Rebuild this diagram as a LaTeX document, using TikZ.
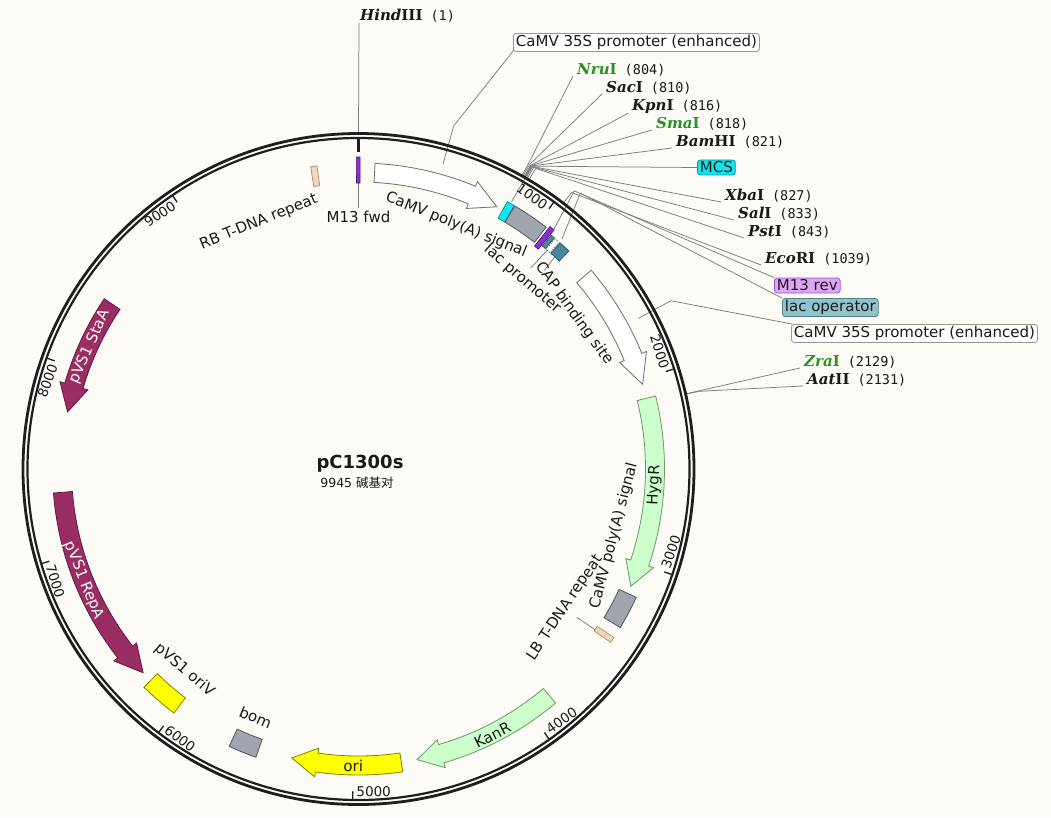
\documentclass[tikz,border=0pt]{standalone}
\usepackage{fontspec}
\setmainfont{DejaVu Sans}
\newfontfamily\enzf{DejaVu Serif}
\newfontfamily\numf{DejaVu Sans Mono}
\newfontfamily\cjkf{Noto Sans CJK SC}
\usetikzlibrary{calc}
\definecolor{bgc}{RGB}{253,251,245}
\definecolor{ringc}{RGB}{30,30,30}
\definecolor{leadc}{RGB}{125,125,125}
\definecolor{enzgreen}{RGB}{40,145,40}
\definecolor{wdraw}{RGB}{110,110,110}
\definecolor{gfill}{RGB}{204,255,204}
\definecolor{gdraw}{RGB}{110,150,110}
\definecolor{yfill}{RGB}{255,255,0}
\definecolor{ydraw}{RGB}{130,130,0}
\definecolor{mfill}{RGB}{153,45,100}
\definecolor{mdraw}{RGB}{100,25,65}
\definecolor{grfill}{RGB}{160,164,175}
\definecolor{grdraw}{RGB}{85,85,95}
\definecolor{bfill}{RGB}{240,215,190}
\definecolor{bdraw}{RGB}{175,140,110}
\definecolor{cfill}{RGB}{20,228,235}
\definecolor{cdraw}{RGB}{0,140,150}
\definecolor{pfill}{RGB}{140,45,210}
\definecolor{pdraw}{RGB}{80,20,120}
\definecolor{tfill}{RGB}{70,135,155}
\definecolor{tdraw}{RGB}{40,80,95}
\definecolor{m13box}{RGB}{222,165,245}
\definecolor{m13boxd}{RGB}{160,80,200}
\definecolor{lacbox}{RGB}{145,195,205}
\definecolor{lacboxd}{RGB}{80,130,140}
\definecolor{mcsbox}{RGB}{20,228,235}
\definecolor{mcsboxd}{RGB}{0,150,160}
\definecolor{camboxd}{RGB}{150,150,150}
\definecolor{txtc}{RGB}{25,25,25}

\newcommand\enz[2]{{\enzf\bfseries\itshape #1}{\enzf\bfseries #2}}
\newcommand\enzpos[1]{\hspace{8pt}{\numf\fontsize{13.5}{16}\selectfont\color{txtc}#1}}

% feature arrow: style, theta start, theta head base, theta tip (clockwise from top)
\newcommand\featarrow[4]{%
  \pgfmathsetmacro\mySa{#2-90}\pgfmathsetmacro\myHa{#3-90}\pgfmathsetmacro\myTa{#4-90}%
  \draw[#1] plot[domain=\mySa:\myHa, samples=40, variable=\t] (\t:306)
    -- (\myHa:311) -- (\myTa:296.5) -- (\myHa:282)
    -- plot[domain=\myHa:\mySa, samples=40, variable=\t] (\t:287) -- cycle;}
% feature box: style, theta1, theta2, r1, r2
\newcommand\featbox[5]{%
  \pgfmathsetmacro\myBa{#2-90}\pgfmathsetmacro\myBb{#3-90}%
  \draw[#1] plot[domain=\myBa:\myBb, samples=12, variable=\t] (\t:#5)
    -- plot[domain=\myBb:\myBa, samples=12, variable=\t] (\t:#4) -- cycle;}
% tick marks
\newcommand\ticktop[2]{%
  \pgfmathsetmacro\myKa{#1-90}\pgfmathsetmacro\myKl{#1-90-0.5}\pgfmathsetmacro\myKr{-#1}%
  \draw[tickline] (\myKa:331) -- (\myKa:322.5);
  \node[ticklab, anchor=north east, rotate=\myKr] (tk#2) at (\myKl:328.5) {#2};}
\newcommand\tickbot[2]{%
  \pgfmathsetmacro\myKa{#1-90}\pgfmathsetmacro\myKl{#1-90-0.5}\pgfmathsetmacro\myKr{180-#1}%
  \draw[tickline] (\myKa:331) -- (\myKa:322.5);
  \node[ticklab, anchor=south west, rotate=\myKr] (tk#2) at (\myKl:328.5) {#2};}
% enzyme leader: theta, node
\newcommand\enzlead[2]{%
  \pgfmathsetmacro\myEa{#1-90}%
  \draw[lead] (\myEa:336) -- (\myEa:349) -- ([xshift=-3pt,yshift=1pt]#2.south west);}

\begin{document}
\begin{tikzpicture}[x=1pt,y=-1pt,
  lead/.style={draw=leadc,line width=0.75pt},
  tickline/.style={draw=ringc,line width=1.3pt},
  ticklab/.style={font=\fontsize{13.5}{15}\selectfont,inner sep=0.6pt,text=txtc},
  flab/.style={font=\fontsize{15}{17}\selectfont,inner sep=0pt,text=txtc},
  enzlab/.style={font=\fontsize{15}{17}\selectfont,inner sep=1pt,anchor=base west,text=txtc},
  boxlab/.style={font=\fontsize{15}{17}\selectfont,rounded corners=3pt,inner xsep=2.5pt,inner ysep=1.8pt,line width=0.8pt,text=txtc},
  fwhite/.style={fill=white,draw=wdraw,line width=0.8pt},
  fgreen/.style={fill=gfill,draw=gdraw,line width=0.8pt},
  fyellow/.style={fill=yfill,draw=ydraw,line width=0.8pt},
  fmag/.style={fill=mfill,draw=mdraw,line width=0.8pt},
  fgray/.style={fill=grfill,draw=grdraw,line width=0.8pt},
  fbeige/.style={fill=bfill,draw=bdraw,line width=0.7pt},
  fcyan/.style={fill=cfill,draw=cdraw,line width=0.7pt},
  fpurple/.style={fill=pfill,draw=pdraw,line width=0.6pt},
  fteal/.style={fill=tfill,draw=tdraw,line width=0.6pt},
  fdash/.style={fill=white,draw=wdraw,line width=0.6pt,dash pattern=on 1.2pt off 1.2pt}]
\fill[bgc] (0,0) rectangle (1051,817);
\useasboundingbox (0,0) rectangle (1051,817);

% ---- outer labels ----
\node[enzlab] (hind) at (359,20) {\enz{Hind}{III}\enzpos{(1)}};
\node[boxlab, draw=camboxd, fill=white, anchor=north west] (cam1) at (513,33) {CaMV 35S promoter (enhanced)};
\node[enzlab] (nru) at (576,74) {\textcolor{enzgreen}{\enz{Nru}{I}}\enzpos{(804)}};
\node[enzlab] (sac) at (605,92) {\enz{Sac}{I}\enzpos{(810)}};
\node[enzlab] (kpn) at (631,110) {\enz{Kpn}{I}\enzpos{(816)}};
\node[enzlab] (sma) at (655,128) {\textcolor{enzgreen}{\enz{Sma}{I}}\enzpos{(818)}};
\node[enzlab] (bam) at (675,146) {\enz{Bam}{HI}\enzpos{(821)}};
\node[boxlab, draw=mcsboxd, fill=mcsbox, anchor=west] (mcs) at (697,167.5) {MCS};
\node[enzlab] (xba) at (724,200) {\enz{Xba}{I}\enzpos{(827)}};
\node[enzlab] (sal) at (737,218) {\enz{Sal}{I}\enzpos{(833)}};
\node[enzlab] (pst) at (747,236) {\enz{Pst}{I}\enzpos{(843)}};
\node[enzlab] (eco) at (764,263) {\enz{Eco}{RI}\enzpos{(1039)}};
\node[boxlab, draw=m13boxd, fill=m13box, anchor=west] (m13rev) at (774,285.5) {M13 rev};
\node[boxlab, draw=lacboxd, fill=lacbox, anchor=west] (lacop) at (782,307.5) {lac operator};
\node[boxlab, draw=camboxd, fill=white, anchor=west] (cam2) at (791,333.5) {CaMV 35S promoter (enhanced)};
\node[enzlab] (zra) at (803,366) {\textcolor{enzgreen}{\enz{Zra}{I}}\enzpos{(2129)}};
\node[enzlab] (aat) at (806,384) {\enz{Aat}{II}\enzpos{(2131)}};

% ---- centre title ----
\node[font=\bfseries\fontsize{18}{20}\selectfont, text=txtc] (title) at (360,464) {pC1300s};
\node[font=\fontsize{12.5}{14}\selectfont, text=txtc] (size) at (357,483) {9945 {\cjkf 碱基对}};

\begin{scope}[shift={(358.5,469)}]
  % leaders to outer labels
  \draw[lead] (-90:337) -- (hind.south west);
  \enzlead{29.10}{nru}
  \enzlead{29.32}{sac}
  \enzlead{29.54}{kpn}
  \enzlead{29.61}{sma}
  \enzlead{29.72}{bam}
  \enzlead{29.94}{xba}
  \enzlead{30.15}{sal}
  \enzlead{30.52}{pst}
  \enzlead{37.61}{eco}
  \enzlead{77.07}{zra}
  \enzlead{77.14}{aat}
  \draw[lead] ({15.5-90}:317) -- ({15.5-90}:356) -- ([xshift=1pt,yshift=2pt]cam1.south west);
  \draw[lead] ({29.8-90}:308) -- ({29.8-90}:349) -- (mcs.west);
  \draw[lead] ({39.2-90}:309) -- ({37.8-90}:352) -- (m13rev.north west);
  \draw[lead] ({41.5-90}:307) -- ({38.8-90}:354) -- (lacop.north west);
  \draw[lead] ({61.7-90}:318) -- ({61.7-90}:355) -- ([xshift=1pt]cam2.north west);
  % inner leaders
  \draw[lead] (-90:286) -- (-90:261);
  \draw[lead] ({40.8-90}:293) -- ({40.6-90}:265);
  \draw[lead] ({42.7-90}:293) -- ({43.1-90}:272);
  \draw[lead] ({124.2-90}:286) -- ({124.2-90}:264);

  % ring
  \draw[ringc, line width=2.8pt] (0,0) circle[radius=335.5];
  \draw[ringc, line width=2.2pt] (0,0) circle[radius=331];
  \draw[ringc, line width=3pt] (-90:331) -- (-90:317);

  % ticks
  \ticktop{36.20}{1000}
  \ticktop{72.40}{2000}
  \tickbot{108.60}{3000}
  \tickbot{144.80}{4000}
  \tickbot{181.00}{5000}
  \tickbot{217.19}{6000}
  \tickbot{253.39}{7000}
  \ticktop{289.59}{8000}
  \ticktop{325.79}{9000}

  % features
  \featbox{fbeige}{351.0}{352.2}{286}{306}
  \featbox{fpurple}{359.6}{360.3}{286}{312}
  \featarrow{fwhite}{3.1}{22.5}{27.8}
  \featbox{fcyan}{29.1}{30.6}{287}{306}
  \featbox{fgray}{30.7}{37.8}{287}{306}
  \featbox{fpurple}{38.3}{39.3}{284}{309}
  \featbox{fteal}{39.5}{40.3}{289}{303}
  \featbox{fdash}{40.5}{41.5}{289}{303}
  \featbox{fteal}{41.7}{44.0}{289}{303}
  \featarrow{fwhite}{49.5}{67.8}{73.4}
  \featarrow{fgreen}{76.2}{108.5}{113.3}
  \featbox{fgray}{114.8}{121.2}{287}{306}
  \featbox{fbeige}{123.4}{124.5}{286}{306}
  \featarrow{fgreen}{139.9}{163.8}{168.6}
  \featarrow{fyellow}{171.7}{188.1}{193.0}
  \featbox{fgray}{199.6}{205.0}{287}{306}
  \featbox{fyellow}{217.1}{224.5}{287}{306}
  \featarrow{fmag}{265.5}{231.9}{226.6}
  \featarrow{fmag}{303.8}{286.3}{281.1}

  % feature labels
  \node[flab, rotate=22] (lrb) at ({338-90}:266) {RB T-DNA repeat};
  \node[flab] (lm13f) at (-90:252) {M13 fwd};
  \node[flab, rotate=-21.8] (lpa1) at ({21.8-90}:263) {CaMV poly(A) signal};
  \node[flab, rotate=-40.8] (llacp) at ({40.8-90}:251) {lac promoter};
  \node[flab, rotate=-54.2] (lcap) at ({54.2-90}:266) {CAP binding site};
  \node[flab, rotate=86.9] (lhyg) at ({93.1-90}:296.5) {HygR};
  \node[flab, rotate=75.3] (lpa2) at ({104.7-90}:264) {CaMV poly(A) signal};
  \node[flab, rotate=56.1] (llb) at ({123.9-90}:249) {LB T-DNA repeat};
  \node[flab, rotate=26.7] (lkan) at ({153.3-90}:298) {KanR};
  \node[flab, rotate=-1] (lori) at ({181-90}:297) {ori};
  \node[flab, rotate=-22.5] (lbom) at ({202.5-90}:269) {bom};
  \node[flab, rotate=-40.9] (loriv) at ({220.9-90}:266) {pVS1 oriV};
  \node[flab, text=white, rotate=-67.9] (lrepa) at ({247.9-90}:296.5) {pVS1 RepA};
  \node[flab, text=white, rotate=66.3] (lstaa) at ({294.5-90}:295) {pVS1 StaA};
\end{scope}
\end{tikzpicture}
\end{document}
